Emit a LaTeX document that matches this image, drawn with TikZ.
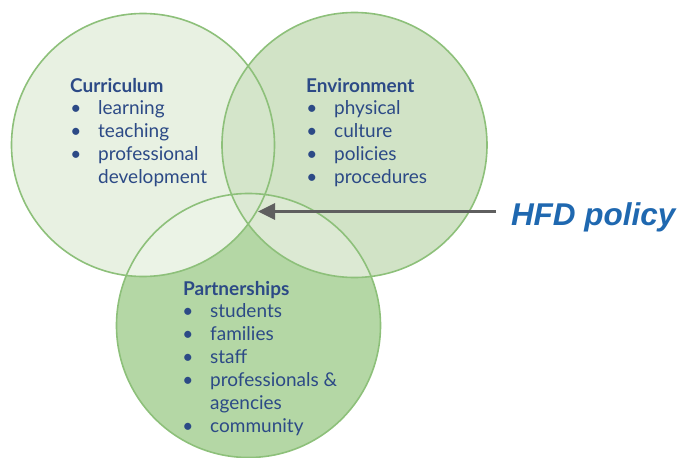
\documentclass[tikz,border=0pt]{standalone}
\usepackage{fontspec}
\setmainfont{Lato}
\newfontfamily\arialfont{Liberation Sans}
\usetikzlibrary{arrows.meta}
\definecolor{cOnly}{HTML}{E8F1E2}
\definecolor{eOnly}{HTML}{D1E3C6}
\definecolor{pOnly}{HTML}{B4D7A5}
\definecolor{ceCol}{HTML}{D4E5CA}
\definecolor{cpCol}{HTML}{EBF3E6}
\definecolor{epCol}{HTML}{DCE9D3}
\definecolor{cepCol}{HTML}{DCE9D4}
\definecolor{ringCol}{HTML}{8DC07A}
\definecolor{txtCol}{HTML}{2C4A86}
\definecolor{hfdCol}{HTML}{1F68B0}
\definecolor{arrCol}{HTML}{5F5F5F}
\begin{document}
\begin{tikzpicture}[x=1pt,y=-1pt,
  ring/.style={draw=ringCol,line width=1.6pt},
  ttl/.style={anchor=base west,inner sep=0pt,text=txtCol,font=\fontsize{19}{23}\selectfont\bfseries},
  itm/.style={anchor=base west,inner sep=0pt,text=txtCol,font=\fontsize{19}{23}\selectfont},
  bul/.style={anchor=base,inner sep=0pt,text=txtCol,font=\fontsize{19}{23}\selectfont},
  arr/.style={draw=arrCol,line width=2.8pt,-{Triangle[length=17pt,width=16pt]}}]
\useasboundingbox (0,0) rectangle (681,458);
\coordinate (C) at (143,145);
\coordinate (E) at (354.5,145);
\coordinate (P) at (248.5,325.5);
\def\rC{131.5}\def\rE{132.5}\def\rP{132}
% base fills
\fill[pOnly] (P) circle (\rP);
\fill[eOnly] (E) circle (\rE);
\fill[cOnly] (C) circle (\rC);
\begin{scope}\clip (C) circle (\rC); \fill[ceCol] (E) circle (\rE); \end{scope}
\begin{scope}\clip (C) circle (\rC); \fill[cpCol] (P) circle (\rP); \end{scope}
\begin{scope}\clip (E) circle (\rE); \fill[epCol] (P) circle (\rP); \end{scope}
\begin{scope}\clip (C) circle (\rC); \clip (E) circle (\rE); \fill[cepCol] (P) circle (\rP); \end{scope}
% outlines
\draw[ring] (P) circle (\rP);
\draw[ring] (E) circle (\rE);
\draw[ring] (C) circle (\rC);
% Curriculum
\node[ttl] (cT) at (70,92) {Curriculum};
\foreach \t/\y/\n in {learning/114/1,teaching/137/2,professional/160/3}{
  \node[bul] (cb\n) at (76,\y) {\textbullet};
  \node[itm] (ci\n) at (98,\y) {\t};
}
\node[itm] (ci4) at (98,183) {development};
% Environment
\node[ttl] (eT) at (306,92) {Environment};
\foreach \t/\y/\n in {physical/114/1,culture/137/2,policies/160/3,procedures/183/4}{
  \node[bul] (eb\n) at (312,\y) {\textbullet};
  \node[itm] (ei\n) at (334,\y) {\t};
}
% Partnerships
\node[ttl] (pT) at (183,295) {Partnerships};
\foreach \t/\y/\n in {students/317/1,families/340/2,staff/363/3,professionals \&/386/4,community/432/6}{
  \node[bul] (pb\n) at (188,\y) {\textbullet};
  \node[itm] (pi\n) at (210,\y) {\t};
}
\node[itm] (pi5) at (210,409) {agencies};
% HFD policy
\node[anchor=base west,inner sep=0pt,outer xsep=15pt,text=hfdCol,font=\arialfont\fontsize{31.5}{35}\selectfont\bfseries\itshape] (hfd) at (496,225) {HFD policy};
\coordinate (tip) at (258,211.5);
\draw[arr] (hfd.west |- tip) -- (tip);
\end{tikzpicture}
\end{document}
